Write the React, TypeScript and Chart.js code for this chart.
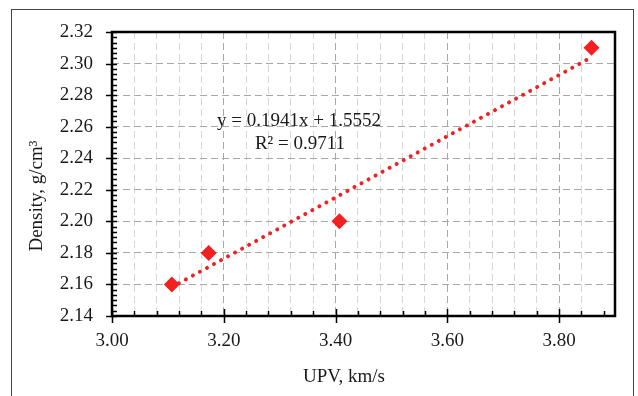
import React, { useEffect, useRef } from "react";
import { Chart, registerables } from "chart.js";

Chart.register(...registerables);

// Data
const upv: number[] = [3.107, 3.173, 3.407, 3.858];
const density: number[] = [2.16, 2.18, 2.2, 2.31];
const trendX: number[] = [3.107, 3.858];
const trendY: number[] = [2.1583, 2.3040];
const equationLines: string[] = ["y = 0.1941x + 1.5552", "R\u00B2 = 0.9711"];
const xTitle = "UPV, km/s";
const yTitle = "Density, g/cm\u00B3";

const X_MIN = 3.0, X_MAX = 3.9, X_MAJOR = 0.2, X_MINOR = 0.04;
const Y_MIN = 2.14, Y_MAX = 2.32, Y_MAJOR = 0.02, Y_MINOR = 0.02 / 6;

const RED = "#F22020";
const FONT = "'Liberation Serif', 'Times New Roman', serif";

const isMult = (v: number, base: number, step: number) => {
  const k = (v - base) / step;
  return Math.abs(k - Math.round(k)) < 1e-6;
};

const decorPlugin = {
  id: "decor",
  afterDraw(chart: any) {
    const { ctx, chartArea: a, scales } = chart;
    const xs = scales.x, ys = scales.y;
    ctx.save();
    // outer frame of figure
    ctx.strokeStyle = "#444";
    ctx.lineWidth = 1;
    ctx.strokeRect(11.5, 9.5, 622, 420);
    // plot frame
    ctx.strokeStyle = "#000";
    ctx.lineWidth = 2.5;
    ctx.strokeRect(a.left, a.top, a.right - a.left, a.bottom - a.top);
    ctx.lineWidth = 1.5;
    ctx.beginPath();
    // y minor ticks (inside)
    for (let v = Y_MIN; v <= Y_MAX + 1e-9; v += Y_MINOR) {
      const y = Math.round(ys.getPixelForValue(v)) + 0.5;
      ctx.moveTo(a.left, y);
      ctx.lineTo(a.left + 5, y);
    }
    // y major ticks (outside)
    for (let v = Y_MIN; v <= Y_MAX + 1e-9; v += Y_MAJOR) {
      const y = Math.round(ys.getPixelForValue(v)) + 0.5;
      ctx.moveTo(a.left - 6, y);
      ctx.lineTo(a.left, y);
    }
    // x minor ticks (inside)
    for (let v = X_MIN; v <= X_MAX + 1e-9; v += X_MINOR) {
      const x = Math.round(xs.getPixelForValue(v)) + 0.5;
      ctx.moveTo(x, a.bottom);
      ctx.lineTo(x, a.bottom - 5);
    }
    // x major ticks (crossing)
    for (let v = X_MIN; v <= X_MAX + 1e-9; v += X_MAJOR) {
      const x = Math.round(xs.getPixelForValue(v)) + 0.5;
      ctx.moveTo(x, a.bottom - 7);
      ctx.lineTo(x, a.bottom + 7);
    }
    ctx.stroke();

    // texts
    ctx.fillStyle = "#1a1a1a";
    ctx.font = `19px ${FONT}`;
    ctx.textAlign = "center";
    ctx.textBaseline = "middle";
    ctx.fillText(equationLines[0], 299, 121);
    ctx.fillText(equationLines[1], 300, 144);
    ctx.fillText(xTitle, 344, 377);
    ctx.translate(37, 196);
    ctx.rotate(-Math.PI / 2);
    ctx.fillText(yTitle, 0, 0);
    ctx.restore();
  },
};

export default function App() {
  const ref = useRef<HTMLCanvasElement | null>(null);
  useEffect(() => {
    document.body.style.margin = "0";
    const canvas = ref.current;
    if (!canvas) return;
    const chart = new Chart(canvas, {
      type: "scatter",
      data: {
        datasets: [
          {
            label: "Density",
            data: upv.map((x, i) => ({ x, y: density[i] })),
            pointStyle: "rectRot",
            pointRadius: 8,
            backgroundColor: RED,
            borderColor: RED,
            borderWidth: 0,
            showLine: false,
          },
          {
            label: "Trend",
            data: trendX.map((x, i) => ({ x, y: trendY[i] })),
            showLine: true,
            pointRadius: 0,
            borderColor: RED,
            borderWidth: 4,
            borderDash: [0.01, 8],
            borderCapStyle: "round",
            fill: false,
          } as any,
        ],
      },
      options: {
        animation: false,
        responsive: false,
        maintainAspectRatio: false,
        layout: { padding: { left: 52, right: 23, top: 32, bottom: 0 } },
        plugins: { legend: { display: false }, tooltip: { enabled: false } },
        scales: {
          x: {
            type: "linear",
            min: X_MIN,
            max: X_MAX,
            afterFit: (s: any) => { s.height = 80; },
            ticks: {
              stepSize: X_MINOR,
              autoSkip: false,
              maxRotation: 0,
              padding: 14,
              color: "#1a1a1a",
              font: { family: FONT, size: 19 },
              callback: (v: any) => (isMult(Number(v), X_MIN, X_MAJOR) && Number(v) < X_MAX - 1e-6 ? Number(v).toFixed(2) : ""),
            },
            grid: {
              drawTicks: false,
              lineWidth: 1,
              color: (c: any) => (c.tick && isMult(c.tick.value, X_MIN, X_MAJOR) ? "#a8a8a8" : "#d6d6d6"),
            },
            border: { display: false, dash: [7, 4] },
          },
          y: {
            type: "linear",
            min: Y_MIN,
            max: Y_MAX,
            afterFit: (s: any) => { s.width = 60; },
            ticks: {
              stepSize: Y_MAJOR,
              padding: 19,
              color: "#1a1a1a",
              font: { family: FONT, size: 19 },
              callback: (v: any) => Number(v).toFixed(2),
            },
            grid: { drawTicks: false, lineWidth: 1, color: "#a8a8a8" },
            border: { display: false, dash: [7, 4] },
          },
        },
      },
      plugins: [decorPlugin],
    });
    return () => chart.destroy();
  }, []);
  return (
    <div style={{ width: 638, height: 396, position: "relative", background: "#fff" }}>
      <canvas ref={ref} width={638} height={396} style={{ width: 638, height: 396 }} />
    </div>
  );
}
